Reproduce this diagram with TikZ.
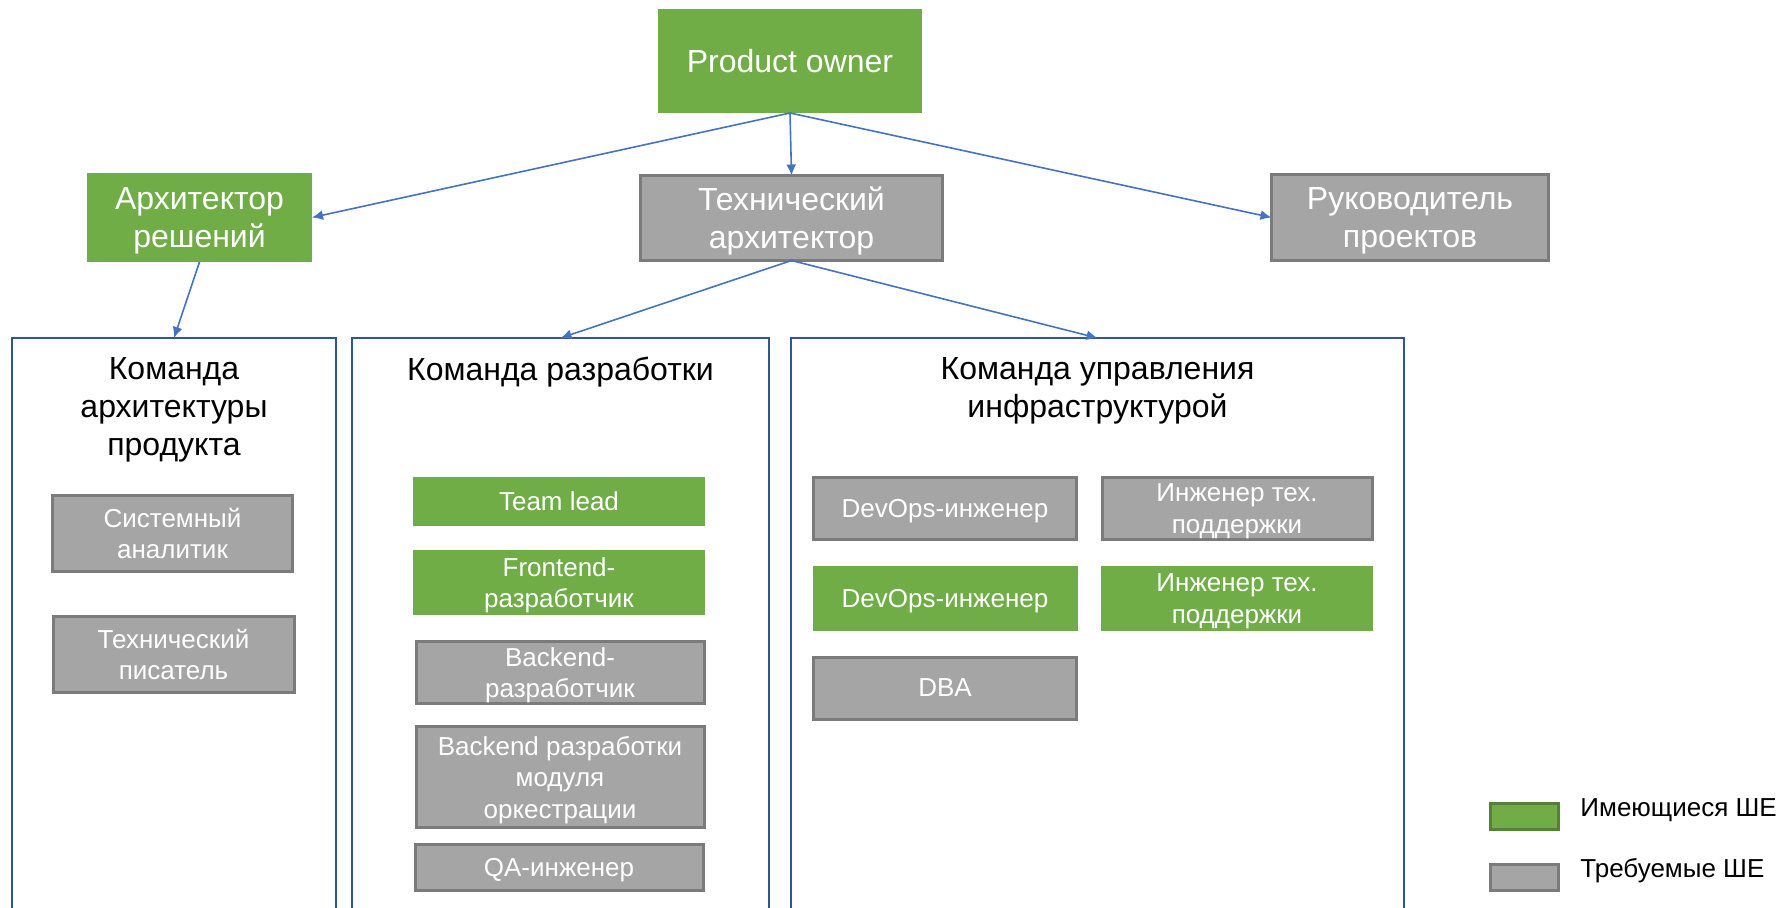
\documentclass[tikz,border=0pt]{standalone}
\usepackage{fontspec}
\setmainfont{Liberation Sans}
\usetikzlibrary{arrows.meta}
\definecolor{pgreen}{HTML}{70AD47}
\definecolor{pgray}{HTML}{A5A5A5}
\definecolor{pgrayb}{HTML}{7B7B7B}
\definecolor{tblue}{HTML}{2F5597}
\definecolor{ablue}{HTML}{4472C4}
\definecolor{lgreenb}{HTML}{548235}
\begin{document}
\begin{tikzpicture}[x=0.5pt,y=-0.5pt,
  big/.style={font=\fontsize{16}{19}\selectfont},
  small/.style={font=\fontsize{13}{15.75}\selectfont},
  role/.style={inner sep=0pt, outer sep=0pt, align=center, text=white, text depth=0pt},
  have/.style={role, fill=pgreen},
  need/.style={role, fill=pgray, draw=pgrayb, line width=1.5pt},
  team/.style={draw=tblue, line width=1pt, inner sep=0pt, outer sep=0pt},
  head/.style={big, align=center, text=black, inner sep=0pt, text depth=0pt},
  link/.style={draw=ablue, line width=0.8pt, -{Latex[length=5.5pt,width=5pt]}},
  legtext/.style={small, anchor=west, inner sep=0pt, text=black},
]
\useasboundingbox (0,0) rectangle (1786,908);
\clip (0,0) rectangle (1786,908);

% team frames
\node[team, minimum width=162pt, minimum height=301pt] (t1) at (174,639) {};
\node[team, minimum width=208.5pt, minimum height=301pt] (t2) at (560.5,639) {};
\node[team, minimum width=306.5pt, minimum height=301pt] (t3) at (1097.5,639) {};

\node[head] (h1) at (174,406) {Команда\\архитектуры\\продукта};
\node[head] (h2) at (560.5,369) {Команда разработки};
\node[head] (h3) at (1097.5,387) {Команда управления\\инфраструктурой};

% top roles
\node[have, big, minimum width=132pt, minimum height=52pt] (po) at (790,61) {Product owner};
\node[have, big, minimum width=112.5pt, minimum height=44.5pt] (arch) at (199.5,217.5) {Архитектор\\решений};
\node[need, big, minimum width=151pt, minimum height=42.5pt] (tech) at (791.5,218) {Технический\\архитектор};
\node[need, big, minimum width=138.5pt, minimum height=43pt] (pm) at (1410,217.5) {Руководитель\\проектов};

% team 1
\node[need, small, minimum width=120pt, minimum height=38pt] (sa) at (172.5,533.5) {Системный\\аналитик};
\node[need, small, minimum width=120.5pt, minimum height=38pt] (tw) at (173.5,654.5) {Технический\\писатель};

% team 2
\node[have, small, minimum width=146pt, minimum height=24.5pt] (tl) at (559,501) {Team lead};
\node[have, small, minimum width=146pt, minimum height=32.5pt] (fe) at (559,582.5) {Frontend-\\разработчик};
\node[need, small, minimum width=144pt, minimum height=31pt] (be) at (560,672.5) {Backend-\\разработчик};
\node[need, small, minimum width=144pt, minimum height=50.5pt] (bo) at (560,777) {Backend разработки\\модуля\\оркестрации};
\node[need, small, minimum width=144pt, minimum height=23pt] (qa) at (559,867.5) {QA-инженер};

% team 3
\node[need, small, minimum width=131.5pt, minimum height=31pt] (d1) at (945,508.5) {DevOps-инженер};
\node[need, small, minimum width=135pt, minimum height=31pt] (s1) at (1237,508.5) {Инженер тех.\\поддержки};
\node[have, small, minimum width=132.5pt, minimum height=32.5pt] (d2) at (945,598.5) {DevOps-инженер};
\node[have, small, minimum width=136pt, minimum height=32.5pt] (s2) at (1237,598.5) {Инженер тех.\\поддержки};
\node[need, small, minimum width=131.5pt, minimum height=31pt] (dba) at (945,688) {DBA};

% connectors
\draw[link] (po.south) -- (arch.east);
\draw[link] (po.south) -- (tech.north);
\draw[link] (po.south) -- (pm.west);
\draw[link] (arch.south) -- (t1.north);
\draw[link] (tech.south) -- (t2.north);
\draw[link] (tech.south) -- (t3.north);

% legend
\node[fill=pgreen, draw=lgreenb, line width=1.5pt, minimum width=34pt, minimum height=13pt, inner sep=0pt] (lg) at (1524.5,816) {};
\node[fill=pgray, draw=pgrayb, line width=1.5pt, minimum width=34pt, minimum height=13pt, inner sep=0pt] (lr) at (1524.5,877) {};
\node[legtext] (lgt) at (1580,810) {Имеющиеся ШЕ};
\node[legtext] (lrt) at (1580,871) {Требуемые ШЕ};
\end{tikzpicture}
\end{document}
